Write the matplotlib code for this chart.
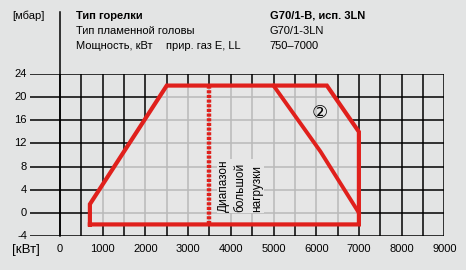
import matplotlib
matplotlib.use("Agg")
import matplotlib.pyplot as plt
from matplotlib.patches import Polygon
import numpy as np

# ---- data ----
x_ticks = [0, 1000, 2000, 3000, 4000, 5000, 6000, 7000, 8000, 9000]
x_grid = list(range(0, 9001, 500))
y_ticks = [-4, 0, 4, 8, 12, 16, 20, 24]
outer_x = [700, 700, 2500, 6250, 7000, 7000, 700]
outer_y = [-2, 1.5, 22, 22, 14, -2, -2]
inner_x = [5000, 6100, 7000]
inner_y = [22, 10.6, 0]
high_load_x = 3500
high_load_y = [-2, 22]
header_left = ["Тип горелки", "Тип пламенной головы", "Мощность, кВт"]
header_gas = "прир. газ E, LL"
header_right = ["G70/1-B, исп. 3LN", "G70/1-3LN", "750–7000"]

BG = "#e3e4e4"
RED = "#e0201c"
FONT = ["Liberation Sans", "DejaVu Sans"]
plt.rcParams['font.family'] = FONT
FS = 8

W, H = 466, 270
fig = plt.figure(figsize=(W / 100, H / 100), dpi=100)
fig.patch.set_facecolor(BG)

# axes geometry in pixels
px_left, px_right = 30, 444.3
px_top, px_bottom = 74, 236
x0_px = 60
scale = (px_right - x0_px) / 9000.0
xmin = (px_left - x0_px) / scale
ax = fig.add_axes([px_left / W, 1 - px_bottom / H, (px_right - px_left) / W, (px_bottom - px_top) / H])
ax.set_xlim(xmin, 9000)
ax.set_ylim(-4, 24)
ax.axis('off')
ax.set_facecolor(BG)

# black grid
ax.hlines(y_ticks, xmin, 9000, color='black', lw=1.1, zorder=1)
ax.vlines(x_grid, -4, 24, color='black', lw=1.1, zorder=1)

# polygon fill covering grid
poly = Polygon(np.column_stack([outer_x, outer_y]), closed=True,
               facecolor="#e6e6e6", edgecolor='none', zorder=2)
ax.add_patch(poly)
clip = Polygon(np.column_stack([outer_x, outer_y]), closed=True,
               facecolor='none', edgecolor='none', transform=ax.transData)
ax.add_patch(clip)
h = ax.hlines(y_ticks, xmin, 9000, color='#b9b9b9', lw=1.1, zorder=3)
v = ax.vlines(x_grid, -4, 24, color='#b9b9b9', lw=1.1, zorder=3)
h.set_clip_path(clip)
v.set_clip_path(clip)

# text in high-load zone
ax.text(4230, 0.1, "Диапазон\nбольшой\nнагрузки", rotation=90, ha='center', va='bottom',
        multialignment='left', fontsize=8.5, linespacing=1.5, zorder=4,
        bbox=dict(facecolor="#e6e6e6", edgecolor='none', pad=0.5))

# red outlines
ax.plot(outer_x, outer_y, color=RED, lw=3.0, solid_joinstyle='miter', zorder=5)
ax.plot(inner_x, inner_y, color=RED, lw=2.8, zorder=5)
ax.plot([high_load_x, high_load_x], high_load_y, color=RED, lw=3.2,
        linestyle=(0, (0.7, 0.35)), zorder=5)

ax.text(6070, 17.3, "②", ha='center', va='center', fontsize=13,
        family=["DejaVu Sans"], zorder=6)

# zero axis line extending to top
ax.plot([0, 0], [-4, 24 + (px_top - 12) / 162 * 28], color='black', lw=1.1,
        clip_on=False, zorder=1)

# tick labels
for yv in y_ticks:
    ax.text(xmin - 3 / scale, yv, str(yv), ha='right', va='center', fontsize=FS, clip_on=False)
for xv in x_ticks:
    fig.text((x0_px + xv * scale) / W, 1 - 249 / H, str(xv), ha='center', va='center', fontsize=FS)

fig.text(12 / W, 1 - 250 / H, "[кВт]", ha='left', va='center', fontsize=9.5)
fig.text(12 / W, 1 - 16 / H, "[мбар]", ha='left', va='center', fontsize=FS)

ys = [16, 31.5, 46]
for i, s in enumerate(header_left):
    fig.text(76 / W, 1 - ys[i] / H, s, ha='left', va='center', fontsize=FS,
             fontweight='bold' if i == 0 else 'normal')
fig.text(166 / W, 1 - ys[2] / H, header_gas, ha='left', va='center', fontsize=FS)
for i, s in enumerate(header_right):
    fig.text(269.5 / W, 1 - ys[i] / H, s, ha='left', va='center', fontsize=FS,
             fontweight='bold' if i == 0 else 'normal')

fig.savefig("out.png", dpi=100, facecolor=BG)
